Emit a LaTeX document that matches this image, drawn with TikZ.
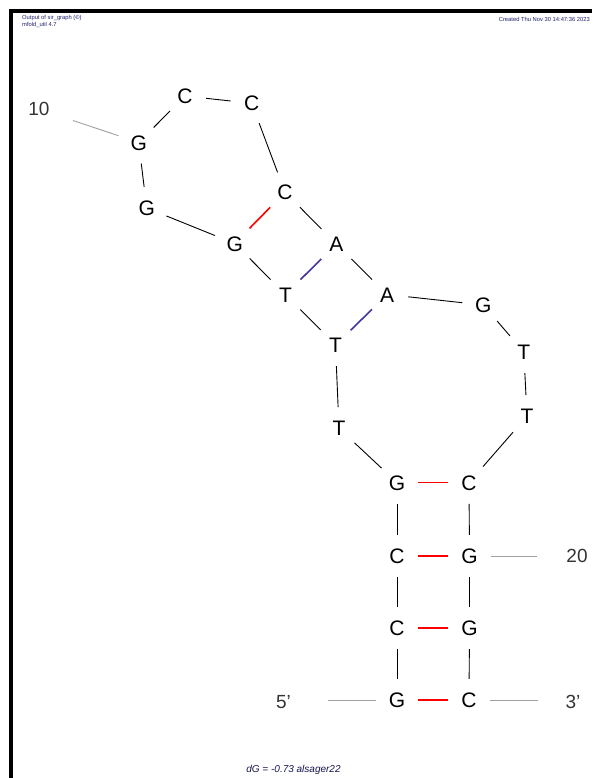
\documentclass[tikz,border=0pt]{standalone}
\usepackage{fontspec}
\setmainfont{Liberation Sans}
\definecolor{pairblue}{RGB}{64,56,160}
\definecolor{pairred}{RGB}{255,0,0}
\definecolor{hdrblue}{RGB}{30,30,110}
\definecolor{tickgray}{RGB}{160,160,160}
\begin{document}
\begin{tikzpicture}[x=1pt,y=-1pt,
  nt/.style={circle,minimum size=42pt,inner sep=0pt,font=\fontsize{21}{24}\selectfont,text height=15pt,text depth=0pt},
  lbl/.style={inner sep=0pt,font=\fontsize{19}{22}\selectfont,text=black!80,text height=13.5pt,text depth=0pt},
  bb/.style={draw=black,line width=0.9pt},
  gcpair/.style={draw=pairred,line width=1.6pt},
  atpair/.style={draw=pairblue,line width=1.6pt},
  tickline/.style={draw=tickgray,line width=0.9pt},
  hdr/.style={inner sep=0pt,font=\fontsize{5.8}{7}\selectfont,text=hdrblue}]
\useasboundingbox (0,0) rectangle (592,778);
% frame
\fill[black] (9,9.5) rectangle (592,13.5);
\fill[black] (9,9.5) rectangle (13,778);
% header
\node[hdr,anchor=west] (h1) at (22,18.5) {Output of sir\_graph (©)};
\node[hdr,anchor=west] (h2) at (22,25) {mfold\_util 4.7};
\node[hdr,anchor=east] (h3) at (590,19) {Created Thu Nov 30 14:47:36 2023};
% nucleotides
\node[nt] (n1) at (397,700) {G};
\node[nt] (n2) at (397,628) {C};
\node[nt] (n3) at (397,556) {C};
\node[nt] (n4) at (397,482.6) {G};
\node[nt] (n5) at (339,428.3) {T};
\node[nt] (n6) at (335.5,345) {T};
\node[nt] (n7) at (285.5,294.5) {T};
\node[nt] (n8) at (234.7,243.5) {G};
\node[nt] (n9) at (146.7,208) {G};
\node[nt] (n10) at (138.7,142.5) {G};
\node[nt] (n11) at (185,96) {C};
\node[nt] (n12) at (251.7,103.3) {C};
\node[nt] (n13) at (285,192.2) {C};
\node[nt] (n14) at (336.3,244) {A};
\node[nt] (n15) at (387.2,294.5) {A};
\node[nt] (n16) at (483.3,305) {G};
\node[nt] (n17) at (523.8,352) {T};
\node[nt] (n18) at (527,416.2) {T};
\node[nt] (n19) at (469,482.6) {C};
\node[nt] (n20) at (469.5,556) {G};
\node[nt] (n21) at (469.5,628) {G};
\node[nt] (n22) at (469,700) {C};
% backbone
\foreach \p/\q in {1/2,2/3,3/4,4/5,5/6,6/7,7/8,8/9,9/10,10/11,11/12,12/13,13/14,14/15,15/16,16/17,17/18,18/19,19/20,20/21,21/22}
  \draw[bb] (n\p) -- (n\q);
% pairs
\draw[gcpair] (n1) -- (n22);
\draw[gcpair] (n2) -- (n21);
\draw[gcpair] (n3) -- (n20);
\draw[gcpair] (n4) -- (n19);
\draw[gcpair] (n8) -- (n13);
\draw[atpair] (n7) -- (n14);
\draw[atpair] (n6) -- (n15);
% labels and ticks
\node[lbl] (l10) at (39,108.5) {10};
\node[lbl] (l20) at (577,556) {20};
\node[lbl] (l5) at (283.5,702) {5’};
\node[lbl] (l3) at (573,702) {3’};
\coordinate (t10) at (73,120.5);
\coordinate (t20) at (536.5,556);
\coordinate (t5) at (328,700);
\coordinate (t3) at (537.5,700);
\draw[tickline] (t10) -- (n10);
\draw[tickline] (n20) -- (t20);
\draw[tickline] (t5) -- (n1);
\draw[tickline] (n22) -- (t3);
% energy
\node[inner sep=0pt,font=\fontsize{10}{12}\selectfont\itshape,text=hdrblue!70!black] (dg) at (293.5,770) {dG = -0.73 alsager22};
\end{tikzpicture}
\end{document}
